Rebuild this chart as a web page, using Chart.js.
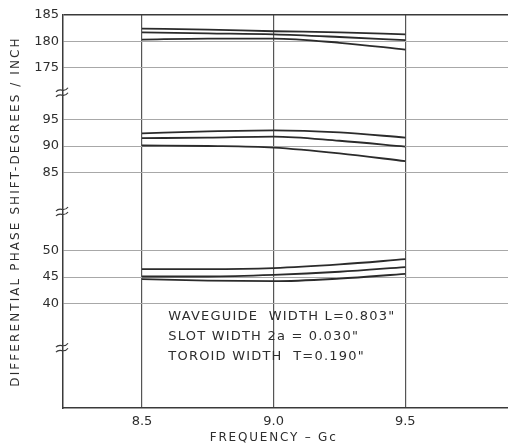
<!DOCTYPE html>
<html>
<head>
<meta charset="utf-8">
<script src="https://cdn.jsdelivr.net/npm/chart.js@4.4.0/dist/chart.umd.min.js"></script>
<style>
  html, body { margin: 0; padding: 0; background: #fff; }
</style>
</head>
<body>
<canvas id="phaseChart" width="508" height="446"></canvas>
<script>
// frequency points (Gc)
var freq = [8.5, 8.75, 9.0, 9.25, 9.5];

// ~180 deg band
var upper180 = [182.4, 182.2, 181.9, 181.7, 181.3];
var mid180 = [181.7, 181.5, 181.3, 180.8, 180.2];
var low180 = [180.3, 180.5, 180.5, 179.7, 178.4];

// ~90 deg band
var upper90 = [92.4, 92.8, 93.0, 92.6, 91.6];
var mid90 = [91.5, 91.6, 91.8, 91.0, 89.9];
var low90 = [90.1, 90.0, 89.7, 88.6, 87.1];

// ~45 deg band
var upper45 = [46.5, 46.5, 46.7, 47.4, 48.4];
var mid45 = [45.1, 45.1, 45.4, 46.0, 46.9];
var low45 = [44.6, 44.3, 44.2, 44.7, 45.6];

var xTicks = [8.5, 9.0, 9.5];
var yTicks = [40, 45, 50, 85, 90, 95, 175, 180, 185];

var xTitle = 'FREQUENCY \u2013 Gc';
var yTitle = 'DIFFERENTIAL PHASE SHIFT-DEGREES / INCH';
var noteLines = ['WAVEGUIDE  WIDTH L=0.803"', 'SLOT WIDTH 2a = 0.030"', 'TOROID WIDTH  T=0.190"'];

// broken y axis: each piece is 10 degrees tall, stacked on one linear axis
var pieces = [{lo: 40, at: 4}, {lo: 85, at: 9}, {lo: 175, at: 13}];
var breaksAt = [2.3, 7.5, 12.05];

function toAxis(d) {
    for (var i = pieces.length - 1; i >= 0; i--) {
        if (d >= pieces[i].lo - 8) return pieces[i].at + (d - pieces[i].lo) / 5;
    }
    return d;
}

function curve(values) {
    return freq.map(function (f, i) { return {x: f, y: toAxis(values[i])}; });
}

var tickLabel = {};
yTicks.forEach(function (t) { tickLabel[toAxis(t).toFixed(2)] = String(t); });

var lineSets = [upper180, mid180, low180, upper90, mid90, low90, upper45, mid45, low45];

var labelsPlugin = {
    id: 'extraText',
    afterDraw: function (chart) {
        var ctx = chart.ctx, a = chart.chartArea, x = chart.scales.x, y = chart.scales.y;
        ctx.save();
        ctx.fillStyle = '#2e2e2e';
        ctx.strokeStyle = '#3a3a3a';

        // axis break marks
        ctx.lineWidth = 1.2;
        breaksAt.forEach(function (b) {
            var py = y.getPixelForValue(b);
            [-2.5, 2.5].forEach(function (off) {
                ctx.beginPath();
                ctx.moveTo(a.left - 7, py + off + 2);
                ctx.bezierCurveTo(a.left - 3, py + off - 3, a.left + 1, py + off + 4, a.left + 5, py + off - 2);
                ctx.stroke();
            });
        });

        // note
        ctx.font = '13px "DejaVu Sans"';
        ctx.letterSpacing = '1.2px';
        ctx.textAlign = 'left';
        ctx.textBaseline = 'middle';
        var nx = x.getPixelForValue(8.6);
        noteLines.forEach(function (s, i) {
            ctx.fillText(s, nx, y.getPixelForValue(3.5 - i * 0.77));
        });

        // axis titles
        ctx.font = '12px "DejaVu Sans"';
        ctx.letterSpacing = '1.8px';
        ctx.textAlign = 'center';
        ctx.fillText(xTitle, x.getPixelForValue(9.0), 438);
        ctx.letterSpacing = '2.1px';
        ctx.translate(16, (a.top + a.bottom) / 2);
        ctx.rotate(-Math.PI / 2);
        ctx.fillText(yTitle, 0, 0);
        ctx.restore();
    }
};

var ctx = document.getElementById('phaseChart').getContext('2d');
var phaseChart = new Chart(ctx, {
    type: 'line',
    data: {
        datasets: lineSets.map(function (vals) {
            return {
                data: curve(vals),
                borderColor: '#2b2b2b',
                borderWidth: 1.8,
                pointRadius: 0,
                cubicInterpolationMode: 'monotone',
                fill: false
            };
        })
    },
    options: {
        responsive: false,
        animation: false,
        layout: {padding: {top: 15, right: 0, bottom: 0, left: 0}},
        plugins: {legend: {display: false}, tooltip: {enabled: false}},
        scales: {
            x: {
                type: 'linear',
                min: 8.2,
                max: 9.89,
                afterBuildTicks: function (scale) {
                    scale.ticks = xTicks.map(function (v) { return {value: v}; });
                },
                afterFit: function (scale) { scale.height = 38; },
                grid: {color: '#555555', lineWidth: 1.2, drawTicks: false},
                border: {color: '#3a3a3a', width: 1.5},
                ticks: {
                    padding: 6,
                    color: '#2e2e2e',
                    font: {family: 'DejaVu Sans', size: 13},
                    callback: function (v) { return v.toFixed(1); }
                }
            },
            y: {
                type: 'linear',
                min: 0,
                max: 15,
                afterBuildTicks: function (scale) {
                    scale.ticks = yTicks.map(function (t) { return {value: toAxis(t)}; });
                },
                afterFit: function (scale) { scale.width = 63; },
                grid: {
                    drawTicks: false,
                    color: function (c) { return c.tick && c.tick.value >= 15 ? '#3a3a3a' : '#a8a8a8'; },
                    lineWidth: function (c) { return c.tick && c.tick.value >= 15 ? 1.5 : 1; }
                },
                border: {color: '#3a3a3a', width: 1.5},
                ticks: {
                    padding: 4,
                    color: '#2e2e2e',
                    font: {family: 'DejaVu Sans', size: 13},
                    callback: function (v) { return tickLabel[Number(v).toFixed(2)] || ''; }
                }
            }
        }
    },
    plugins: [labelsPlugin]
});
</script>
</body>
</html>
